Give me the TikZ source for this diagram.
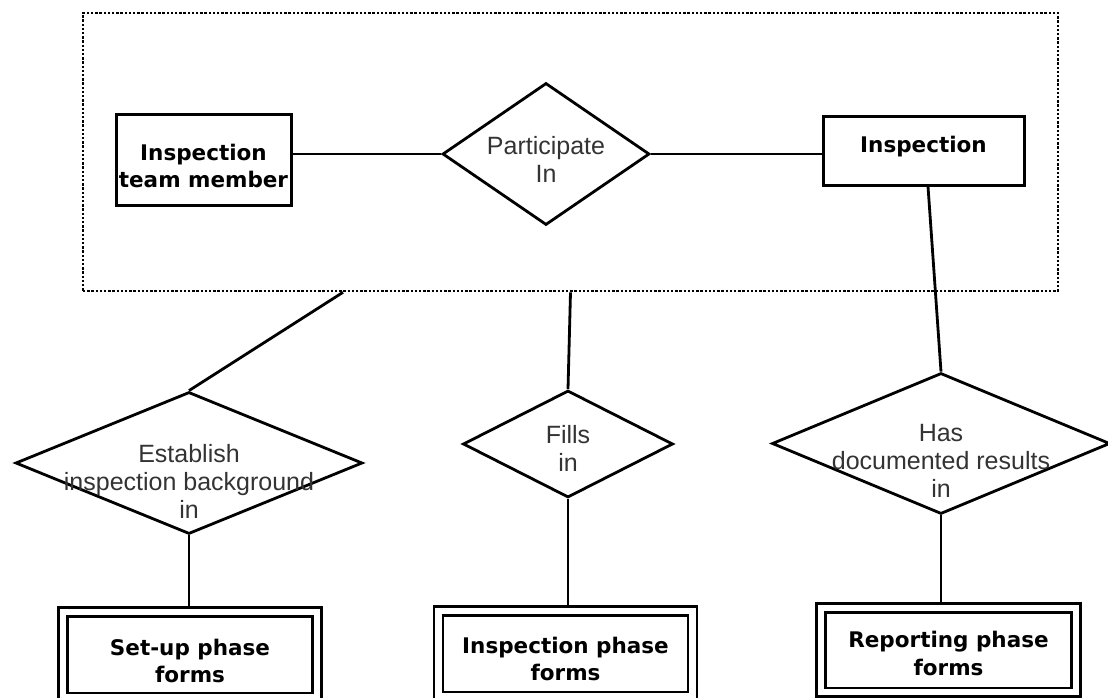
\documentclass[tikz,border=0pt]{standalone}
\usepackage{fontspec}
\usetikzlibrary{shapes.geometric}
\newfontfamily\relfont{Liberation Sans}
\newfontfamily\entfont{DejaVu Sans}
\begin{document}
\begin{tikzpicture}[x=1pt,y=-1pt,
  entity/.style={draw, rectangle, line width=3pt, inner sep=0pt},
  weakentity/.style={draw, rectangle, double, line width=2.7pt, double distance=6.1pt, inner sep=0pt},
  relation/.style={draw, diamond, line width=2.8pt, inner sep=0pt},
  link/.style={line width=2.8pt},
  grouping/.style={draw, rectangle, line width=2.6pt, dash pattern=on 2.4pt off 1.8pt, inner sep=0pt},
  enttext/.style={font=\entfont\bfseries\fontsize{21.5}{27.5}\selectfont, align=center, inner sep=0pt},
  reltext/.style={font=\relfont\fontsize{25}{28}\selectfont, align=center, inner sep=0pt, text=black!80}]
\clip (0,0) rectangle (1108,698);
\fill[white] (0,0) rectangle (1108,698);

% aggregation around the participation relationship
\node[grouping, minimum width=975, minimum height=278] (grp) at (570.5,152) {};

% entities
\node[entity, minimum width=175, minimum height=90,
      label={[enttext,yshift=-6pt]center:Inspection\\team member}] (tm) at (203.5,160) {};
\node[entity, minimum width=201, minimum height=68,
      label={[enttext,yshift=4.5pt]center:Inspection}] (insp) at (923.5,151) {};

% relationships
\node[relation, minimum width=207, minimum height=142,
      label={[reltext,yshift=-5pt]center:Participate\\In}] (part) at (546,154) {};
\node[relation, minimum width=347, minimum height=142,
      label={[reltext,yshift=-18pt]center:Establish\\inspection background\\in}] (est) at (189,463) {};
\node[relation, minimum width=210, minimum height=107,
      label={[reltext,yshift=-4pt]center:Fills\\in}] (fills) at (568,444) {};
\node[relation, minimum width=338, minimum height=141,
      label={[reltext,yshift=-17pt]center:Has\\documented results\\in}] (has) at (941,443.5) {};

% weak entities
\node[weakentity, minimum width=254, minimum height=85.5,
      label={[enttext,yshift=-6pt]center:Set-up phase\\forms}] (setup) at (190,654.75) {};
\node[weakentity, minimum width=254, minimum height=85.5,
      label={[enttext,yshift=-5pt]center:Inspection phase\\forms}] (ipf) at (565.5,653.75) {};
\node[weakentity, minimum width=255, minimum height=84.5,
      label={[enttext,yshift=-3.7pt]center:Reporting phase\\forms}] (rpf) at (948.5,650) {};

% connectors
\draw[link] (part.west) -- (part.west -| tm.east);
\draw[link] (part.east) -- (part.east -| insp.west);
\draw[link] ([xshift=4.5pt]insp.south) -- (has.north);
\draw[link] ([xshift=-227.5pt]grp.south) -- (est.north);
\draw[link] (grp.south) -- (fills.north);
\draw[link, shorten >=4.4pt] (est.south) -- (est.south |- setup.north);
\draw[link, shorten >=4.4pt] (fills.south) -- (fills.south |- ipf.north);
\draw[link, shorten >=4.4pt] (has.south) -- (has.south |- rpf.north);
\end{tikzpicture}
\end{document}
